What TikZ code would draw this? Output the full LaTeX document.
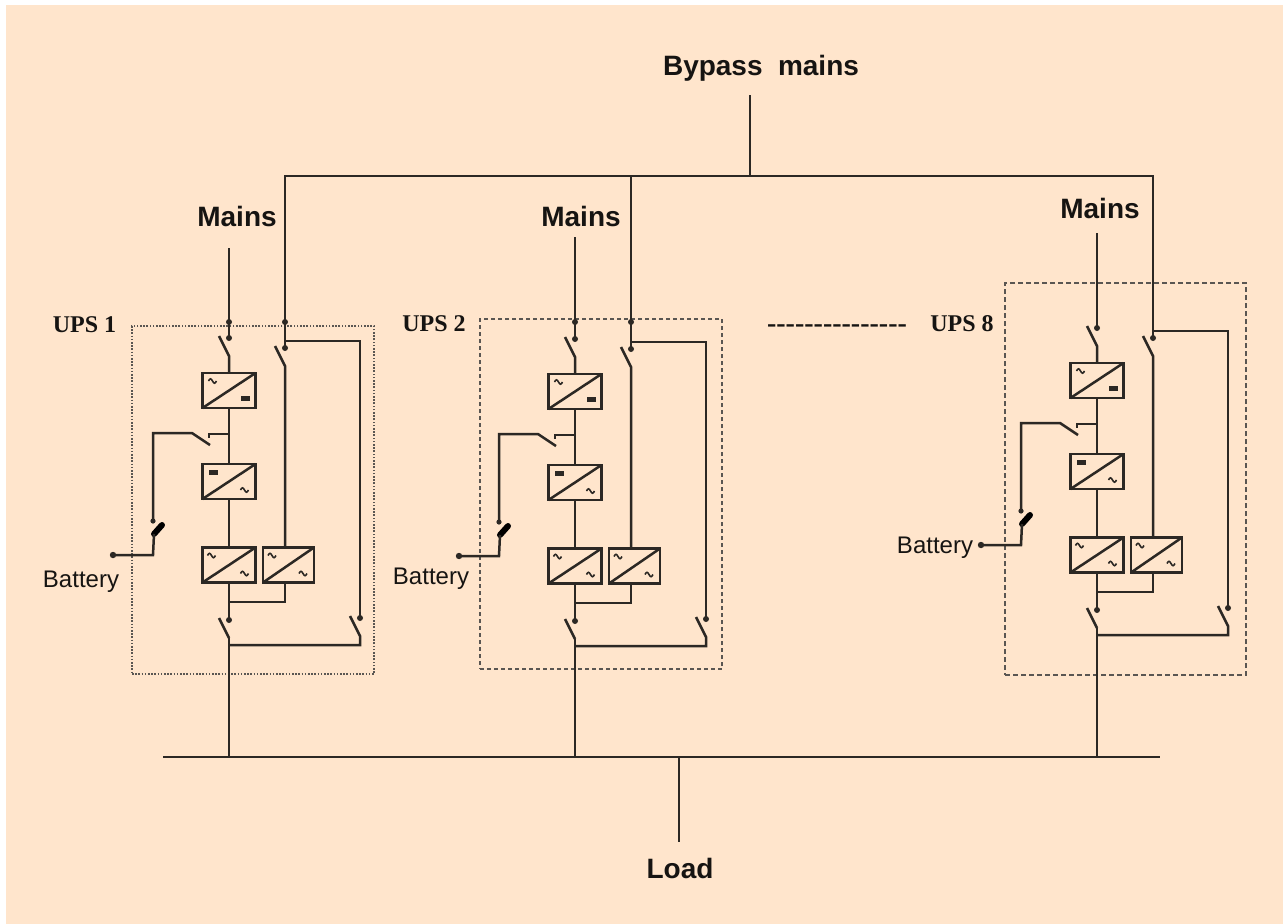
\documentclass[tikz,border=0pt]{standalone}
\usepackage{fontspec}
\setmainfont{Liberation Serif}
\newfontfamily\lsans{Liberation Sans}
\newfontfamily\lserif{Liberation Serif}
\definecolor{bgc}{RGB}{255,229,204}
\definecolor{wirec}{RGB}{44,40,36}
\definecolor{txtc}{RGB}{22,20,18}
\definecolor{framec}{RGB}{90,86,82}
\tikzset{
  wire/.style={draw=wirec, line width=2.5pt},
  conv/.style={draw=wirec, line width=2.5pt, minimum width=53pt, minimum height=35pt, inner sep=0pt, outer sep=0pt},
  sym/.style={draw=wirec, line width=1.6pt},
  bigtxt/.style={font=\lsans\bfseries\fontsize{28}{30}\selectfont, text=txtc, inner sep=0pt, anchor=base},
  battxt/.style={font=\lsans\fontsize{24}{26}\selectfont, text=txtc, inner sep=0pt, anchor=base},
  upstxt/.style={font=\lserif\bfseries\fontsize{24}{26}\selectfont, text=txtc, inner sep=0pt, anchor=base},
  dashtxt/.style={font=\lserif\bfseries\fontsize{28}{30}\selectfont, text=txtc, inner sep=0pt, anchor=base},
  frame/.style={draw=framec, line width=1.7pt, inner sep=0pt},
}
\newcommand{\tld}[1]{\draw[sym] (#1) sin +(2,-2.2) cos +(2,2.2) sin +(2,2.2) cos +(2,-2.2);}
\newcommand{\eqs}[1]{\fill[wirec] (#1) rectangle +(9,5);}
\newcommand{\upsunit}[3]{%
  \coordinate (#1mc) at (#2,{#3-35});
  \coordinate (#1mp) at ({#2-10},{#3-37});
  \coordinate (#1mq) at (#2,{#3-17});
  \coordinate (#1bj) at ({#2+56},{#3-32});
  \coordinate (#1bc) at ({#2+56},{#3-25});
  \coordinate (#1bp) at ({#2+46},{#3-27});
  \coordinate (#1bq) at ({#2+56},{#3-7});
  \coordinate (#1rt) at ({#2+131},{#3-32});
  \coordinate (#1rc) at ({#2+131},{#3+245});
  \coordinate (#1rp) at ({#2+121},{#3+243});
  \coordinate (#1rq) at ({#2+131},{#3+263});
  \coordinate (#1rb) at ({#2+131},{#3+272});
  \coordinate (#1ob) at (#2,{#3+272});
  \coordinate (#1oj) at (#2,{#3+229});
  \coordinate (#1oc) at (#2,{#3+247});
  \coordinate (#1op) at ({#2-10},{#3+245});
  \coordinate (#1oq) at (#2,{#3+265});
  \coordinate (#1bt) at (#2,{#3+61});
  \coordinate (#1bs) at ({#2-20},{#3+61});
  \coordinate (#1bk) at ({#2-20},{#3+65});
  \coordinate (#1bbq) at ({#2-19},{#3+72});
  \coordinate (#1bbp) at ({#2-37},{#3+60});
  \coordinate (#1bl) at ({#2-76},{#3+60});
  \coordinate (#1bd) at ({#2-76},{#3+148});
  \coordinate (#1bx) at ({#2-75},{#3+161});
  \coordinate (#1by) at ({#2-67},{#3+152});
  \coordinate (#1bz) at ({#2-76},{#3+182});
  \coordinate (#1bterm) at ({#2-116},{#3+182});
  \node[conv] (#1c1) at (#2,{#3+17.5}) {};
  \node[conv] (#1c2) at (#2,{#3+108.5}) {};
  \node[conv] (#1c3) at (#2,{#3+192}) {};
  \node[conv, minimum width=51pt] (#1c4) at ({#2+59.5},{#3+192}) {};
  \foreach \c in {c1,c2,c3,c4} {\draw[wire] (#1\c.south west) -- (#1\c.north east);}
  \tld{[shift={(6,8)}]#1c1.north west}
  \eqs{[shift={(-15,-12)}]#1c1.south east}
  \eqs{[shift={(6,6)}]#1c2.north west}
  \tld{[shift={(-15,-9)}]#1c2.south east}
  \tld{[shift={(5,8)}]#1c3.north west}
  \tld{[shift={(-15,-9)}]#1c3.south east}
  \tld{[shift={(5,8)}]#1c4.north west}
  \tld{[shift={(-15,-9)}]#1c4.south east}
  % main path
  \draw[wire] (#1mp) -- (#1mq) -- (#1c1.north);
  \fill[wirec] (#1mc) circle[radius=3pt];
  \draw[wire] (#1c1.south) -- (#1c2.north);
  \draw[wire] (#1c2.south) -- (#1c3.north);
  \draw[wire] (#1c3.south) -- (#1oc);
  \fill[wirec] (#1oc) circle[radius=3pt];
  \draw[wire] (#1op) -- (#1oq);
  % bypass path
  \draw[wire] (#1bp) -- (#1bq) -- (#1c4.north -| #1bq);
  \fill[wirec] (#1bc) circle[radius=3pt];
  \draw[wire] (#1bj) -- (#1rt) -- (#1rc);
  \fill[wirec] (#1rc) circle[radius=3pt];
  \draw[wire] (#1rp) -- (#1rq) -- (#1rb) -- (#1ob);
  \draw[wire] (#1c4.south -| #1bq) |- (#1oj);
  % battery
  \draw[wire] (#1bt) -- (#1bs) -- (#1bk);
  \draw[wire] (#1bbq) -- (#1bbp) -- (#1bl) -- (#1bd);
  \fill[wirec] (#1bd) circle[radius=2.6pt];
  \draw[draw=black, line width=6pt, line cap=round] (#1bx) -- (#1by);
  \draw[wire] (#1bx) -- (#1bz) -- (#1bterm);
  \fill[wirec] (#1bterm) circle[radius=3.2pt];
}
\begin{document}
\begin{tikzpicture}[x=1pt, y=-1pt]
  \useasboundingbox (0,0) rectangle (1283,924);
  \fill[white] (0,0) rectangle (1283,924);
  \fill[bgc] (6,5) rectangle (1283,924);
  % frames
  \node[frame, dash pattern=on 1.6pt off 1.6pt, minimum width=242pt, minimum height=348pt] (f1) at (253,500) {};
  \node[frame, dash pattern=on 4pt off 3pt, minimum width=242pt, minimum height=350pt] (f2) at (601,494) {};
  \node[frame, dash pattern=on 5pt off 3pt, minimum width=241pt, minimum height=392pt] (f8) at (1125.5,479) {};
  % units
  \upsunit{a}{229}{373}
  \upsunit{b}{575}{374}
  \upsunit{h}{1097}{363}
  % texts
  \node[bigtxt] (bypass) at (761,75) {Bypass\hspace{0.55em}mains};
  \node[bigtxt] (mains1) at (237,226) {Mains};
  \node[bigtxt] (mains2) at (581,226) {Mains};
  \node[bigtxt] (mains8) at (1100,218) {Mains};
  \node[bigtxt] (load) at (680,878) {Load};
  \node[battxt] (bat1) at (81,587) {Battery};
  \node[battxt] (bat2) at (431,584) {Battery};
  \node[battxt] (bat8) at (935,553) {Battery};
  \node[upstxt] (ups1) at (84.5,332) {UPS 1};
  \node[upstxt] (ups2) at (434,331) {UPS 2};
  \node[upstxt] (ups8) at (962,331) {UPS 8};
  \node[dashtxt] (dots) at (837,332) {-{}-{}-{}-{}-{}-{}-{}-{}-{}-{}-{}-{}-{}-{}-};
  % bypass bus
  \coordinate (bt) at (750,95);
  \coordinate (bj) at (750,176);
  \draw[wire] (bt) -- (bj);
  \draw[wire] (abc) -- (abc |- bj) -- (hbc |- bj) -- (hbc);
  \draw[wire] (bbc |- bj) -- (bbc);
  % mains feeds
  \coordinate (am) at (229,248);
  \coordinate (bm) at (575,237);
  \coordinate (hm) at (1097,233);
  \draw[wire] (am) -- (amc);
  \draw[wire] (bm) -- (bmc);
  \draw[wire] (hm) -- (hmc);
  \foreach \p in {a,b} {
    \fill[wirec] (\p mc |- 0,322) circle[radius=3pt];
    \fill[wirec] (\p bc |- 0,322) circle[radius=3pt];
  }
  % load bus
  \coordinate (lbl) at (163,757);
  \coordinate (lbr) at (1160,757);
  \coordinate (lj) at (679,757);
  \coordinate (lt) at (679,842);
  \draw[wire] (lbl) -- (lbr);
  \draw[wire] (lj) -- (lt);
  \foreach \p in {a,b,h} { \draw[wire] (\p oq) -- (\p oq |- lbl); }
\end{tikzpicture}
\end{document}
